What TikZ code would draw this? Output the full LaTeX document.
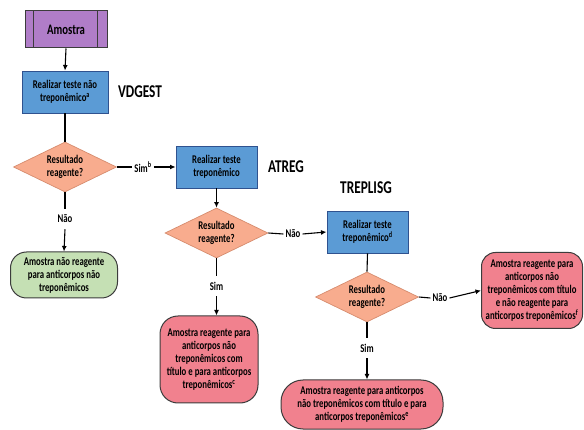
\documentclass[tikz,border=0pt]{standalone}
\usepackage{fontspec}
\setmainfont{Carlito}[FakeStretch=0.74]
\usetikzlibrary{shapes.geometric,arrows.meta}
\definecolor{cpurple}{RGB}{176,125,200}
\definecolor{cblue}{RGB}{91,155,213}
\definecolor{cblueb}{RGB}{47,82,143}
\definecolor{csalmon}{RGB}{248,172,142}
\definecolor{csalmonb}{RGB}{214,140,110}
\definecolor{cgreen}{RGB}{197,224,180}
\definecolor{cpink}{RGB}{241,129,142}
\definecolor{cdark}{RGB}{60,60,60}
\tikzset{
  txt/.style={font=\fontsize{11.8}{13}\selectfont\bfseries, align=center, inner sep=0pt},
  procbox/.style={txt, draw=cblueb, fill=cblue, line width=0.9pt, minimum width=#1, minimum height=42pt},
  decision/.style={txt, diamond, aspect=2, draw=csalmonb, fill=csalmon, line width=0.7pt, minimum width=103pt, minimum height=50pt},
  term/.style={txt, draw=cdark, line width=1pt},
  tag/.style={font=\fontsize{18}{20}\selectfont\bfseries, inner sep=0pt},
  lbl/.style={font=\fontsize{11.8}{13}\selectfont\bfseries, inner xsep=2pt, inner ysep=6pt},
  conn/.style={line width=1.1pt, draw=black},
  arr/.style={conn, -{Latex[length=5.5pt,width=5pt]}}
}
\begin{document}
\begin{tikzpicture}[x=1pt,y=-1pt]
\useasboundingbox (0,0) rectangle (584,430);
% nodes
\node[txt, draw=cdark, fill=cpurple, line width=1pt, minimum width=82pt, minimum height=37pt,
      font=\fontsize{14.5}{16}\selectfont\bfseries] (am) at (66,29.5) {Amostra};
\draw[cdark, line width=1pt] ([xshift=9pt]am.north west) -- ([xshift=9pt]am.south west);
\draw[cdark, line width=1pt] ([xshift=-10pt]am.north east) -- ([xshift=-10pt]am.south east);

\node[procbox=86pt] (b1) at (65,92) {Realizar teste não\\treponêmico\textsuperscript{a}};
\node[tag] (t1) at (140,92) {VDGEST};
\node[decision] (d1) at (65,167) {Resultado\\reagente?};
\node[lbl] (simb) at (143,167) {Sim\textsuperscript{b}};
\node[lbl] (nao1) at (65,219) {Não};
\node[term, fill=cgreen, rounded corners=16pt, minimum width=107pt, minimum height=46pt] (g1) at (64,275)
  {Amostra não reagente\\para anticorpos não\\treponêmicos};

\node[procbox=81pt] (b2) at (216.5,167) {Realizar teste\\treponêmico};
\node[tag] (t2) at (286,167) {ATREG};
\node[decision] (d2) at (216.5,233) {Resultado\\reagente?};
\node[lbl] (nao2) at (293,234) {Não};
\node[lbl] (sim2) at (216.5,286) {Sim};
\node[term, fill=cpink, rounded corners=18pt, minimum width=98pt, minimum height=87pt] (p2) at (209,359.5)
  {Amostra reagente para\\anticorpos não\\treponêmicos com\\título e para anticorpos\\treponêmicos\textsuperscript{c}};

\node[procbox=81pt] (b3) at (367.5,232) {Realizar teste\\treponêmico\textsuperscript{d}};
\node[tag] (t3) at (366,188) {TREPLISG};
\node[decision] (d3) at (367,297) {Resultado\\reagente?};
\node[lbl] (nao3) at (440,298) {Não};
\node[lbl] (sim3) at (367,348) {Sim};
\node[term, fill=cpink, rounded corners=22pt, minimum width=162pt, minimum height=49pt] (p3) at (362,404.5)
  {Amostra reagente para anticorpos\\não treponêmicos com título e para\\anticorpos treponêmicos\textsuperscript{e}};
\node[term, fill=cpink, rounded corners=14pt, minimum width=101pt, minimum height=76pt] (p4) at (532,290.5)
  {Amostra reagente para\\anticorpos não\\treponêmicos com título\\e não reagente para\\anticorpos treponêmicos\textsuperscript{f}};

% connectors
\draw[arr] (am.south) -- (b1.north);
\draw[conn] (b1.south) -- (d1.north);
\draw[conn] (d1.east) -- (simb.west);
\draw[arr] (simb.east) -- (b2.west);
\draw[conn] (d1.south) -- (nao1.north);
\draw[arr] (nao1.south) -- (g1.north);
\draw[arr] (b2.south) -- (d2.north);
\draw[conn] (d2.east) -- (nao2.west);
\draw[arr] (nao2.east) -- (b3.west);
\draw[conn] (d2.south) -- (sim2.north);
\draw[arr] (sim2.south) -- (sim2.south |- p2.north);
\draw[conn] (b3.south) -- (d3.north);
\draw[conn] (d3.east) -- (nao3.west);
\draw[arr] (nao3.east) -- (p4.west);
\draw[conn] (d3.south) -- (sim3.north);
\draw[arr] (sim3.south) -- (sim3.south |- p3.north);
\end{tikzpicture}
\end{document}
